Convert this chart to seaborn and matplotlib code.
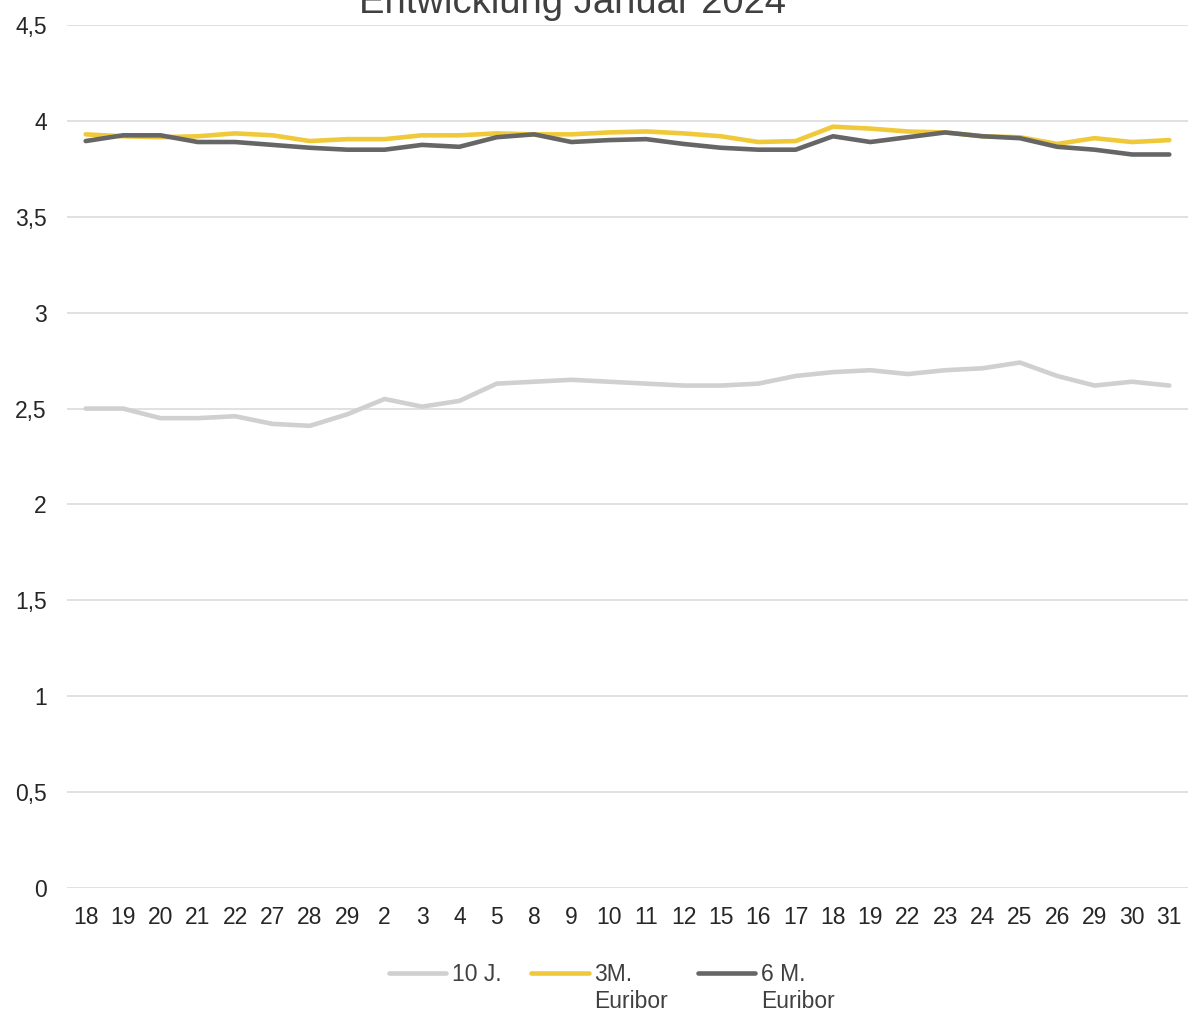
import numpy as np
import pandas as pd
import matplotlib.pyplot as plt
import seaborn as sns

# Trading days (Dec 2023 -> Jan 2024), labels repeat so keep positions separate
days = ['18', '19', '20', '21', '22', '27', '28', '29', '2', '3', '4', '5', '8', '9',
        '10', '11', '12', '15', '16', '17', '18', '19', '22', '23', '24', '25', '26',
        '29', '30', '31']

rate_10j = [2.50, 2.50, 2.45, 2.45, 2.46, 2.42, 2.41, 2.47, 2.55, 2.51, 2.54, 2.63,
            2.64, 2.65, 2.64, 2.63, 2.62, 2.62, 2.63, 2.67, 2.69, 2.70, 2.68, 2.70,
            2.71, 2.74, 2.67, 2.62, 2.64, 2.62]
euribor_3m = [3.93, 3.92, 3.915, 3.92, 3.935, 3.925, 3.895, 3.905, 3.905, 3.925, 3.925,
              3.935, 3.93, 3.93, 3.94, 3.945, 3.935, 3.92, 3.89, 3.895, 3.97, 3.96,
              3.945, 3.94, 3.92, 3.915, 3.88, 3.91, 3.89, 3.90]
euribor_6m = [3.895, 3.925, 3.925, 3.89, 3.89, 3.875, 3.86, 3.85, 3.85, 3.875, 3.865,
              3.915, 3.93, 3.89, 3.90, 3.905, 3.88, 3.86, 3.85, 3.85, 3.92, 3.89,
              3.915, 3.94, 3.92, 3.91, 3.865, 3.85, 3.825, 3.825]

series_names = ['10 J.', '3M.\nEuribor', '6 M.\nEuribor']
colors = ['#d0d0d0', '#f0c93a', '#666666']

pos = np.arange(len(days))
df = pd.concat([
    pd.DataFrame({'pos': pos, 'value': vals, 'series': name})
    for name, vals in zip(series_names, [rate_10j, euribor_3m, euribor_6m])
])

sns.set_style('white')
plt.rcParams['font.family'] = ['Liberation Sans', 'DejaVu Sans']

fig = plt.figure(figsize=(11.88, 10.14), dpi=100)
ax = fig.add_axes([0.0564, 0.1243, 0.9436, 0.851])

sns.lineplot(data=df, x='pos', y='value', hue='series', palette=colors,
             hue_order=series_names, linewidth=3.3, ax=ax, legend=False)

ax.set_xlim(-0.5, len(days) - 0.5)
ax.set_ylim(0, 4.5)
yt = np.arange(0, 4.51, 0.5)
ax.set_yticks(yt)
ax.set_yticklabels([f'{v:g}'.replace('.', ',') for v in yt])
ax.set_xticks(pos)
ax.set_xticklabels(days)
ax.tick_params(axis='both', length=0, labelsize=16.5, labelcolor='#262626')
ax.tick_params(axis='y', pad=14.5)
ax.tick_params(axis='x', pad=13)
ax.grid(axis='y', color='#d9d9d9', linewidth=1.1)
ax.set_axisbelow(True)
ax.set_xlabel('')
ax.set_ylabel('')
for s in ax.spines.values():
    s.set_visible(False)

# title is partly above the top edge, like in the original
fig.text(0.482, 1 - 13 / 1014, 'Entwicklung Januar 2024', ha='center', va='baseline',
         fontsize=27.5, color='#404040')

handles = [plt.Line2D([], [], color=c, linewidth=3.3) for c in colors]
leg = fig.legend(handles, series_names, loc='upper center', bbox_to_anchor=(0.515, 0.066),
                 ncol=3, frameon=False, fontsize=16.5, handlelength=2.5, handleheight=1.2,
                 handletextpad=0.25, columnspacing=1.3, labelcolor='#404040',
                 borderpad=0.2)
# put the legend line next to the first label line
leg._legend_handle_box.align = 'top'
for col in leg._legend_handle_box.get_children():
    col.align = 'left'
    for item in col.get_children():
        item.align = 'top'

fig.savefig('out.png', dpi=100)
